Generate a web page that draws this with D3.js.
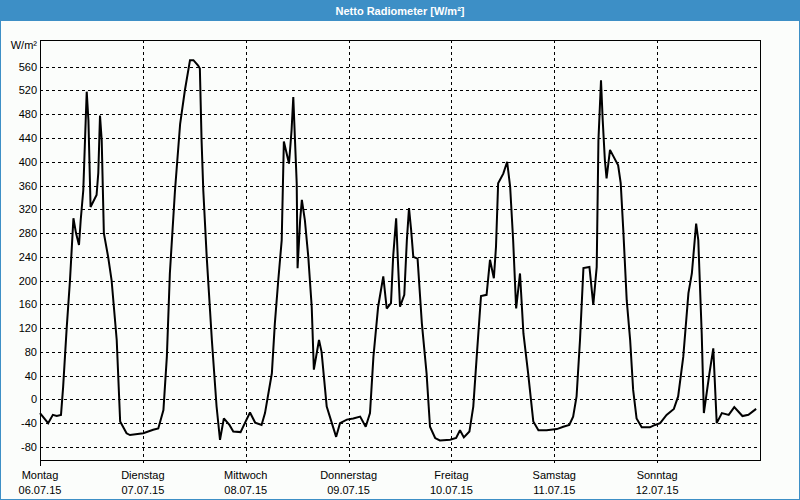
<!DOCTYPE html>
<html>
<head>
<meta charset="utf-8">
<script src="https://cdn.jsdelivr.net/npm/d3@7"></script>
<style>
  html, body { margin: 0; padding: 0; background: #fbfdfb; }
  svg { display: block; }
  text { font-family: "Liberation Sans", Arial, sans-serif; }
</style>
</head>
<body>
<svg id="chart" width="800" height="500"></svg>
<script>
const title = "Netto Radiometer [W/m²]";
const unitLabel = "W/m²";
const dayNames = ["Montag", "Dienstag", "Mittwoch", "Donnerstag", "Freitag", "Samstag", "Sonntag"];
const dayDates = ["06.07.15", "07.07.15", "08.07.15", "09.07.15", "10.07.15", "11.07.15", "12.07.15"];
const yTicks = [-80, -40, 0, 40, 80, 120, 160, 200, 240, 280, 320, 360, 400, 440, 480, 520, 560];

// hours since Monday 06.07.15 00:00
const hours = [0, 1.9, 3.0, 3.9, 4.9, 5.4, 6.2, 7.0, 7.8, 8.4, 9.1, 9.5, 10.1, 10.5, 10.9, 11.3, 11.8, 13.2, 13.6, 14.0, 14.4, 14.9, 15.9, 16.7, 17.9, 18.7, 20.2, 21.0, 24.1, 26.4, 27.6, 28.8, 29.6, 30.3, 31.5, 32.7, 33.8, 35.0, 35.8, 36.9, 37.3, 37.7, 38.1, 38.9, 40.1, 41.2, 42.0, 42.9, 44.2, 45.1, 46.8, 47.8, 49.0, 50.2, 51.7, 52.5, 54.1, 54.8, 55.6, 56.4, 56.9, 58.1, 58.7, 59.1, 59.5, 59.9, 60.1, 60.7, 61.1, 61.8, 62.6, 63.4, 63.9, 65.1, 65.7, 66.9, 68.1, 69.1, 70.0, 71.6, 73.1, 74.7, 76.0, 77.0, 77.8, 78.9, 80.1, 80.9, 81.9, 82.4, 83.1, 83.5, 84.0, 85.0, 85.6, 86.1, 86.6, 87.1, 88.1, 89.1, 90.2, 91.0, 92.2, 93.3, 95.7, 97.1, 98.0, 98.9, 100.2, 101.1, 101.9, 102.9, 104.2, 105.0, 105.9, 106.4, 106.9, 108.1, 109.0, 109.7, 110.4, 111.1, 112.0, 112.8, 113.9, 115.1, 116.3, 118.2, 120.6, 122.1, 123.5, 124.4, 125.2, 126.0, 126.8, 128.2, 129.1, 129.9, 130.3, 130.9, 131.3, 131.8, 132.2, 133.0, 134.9, 135.5, 136.1, 136.9, 137.7, 138.4, 139.2, 140.4, 142.3, 143.5, 144.7, 146.2, 147.9, 148.9, 150.1, 151.3, 152.1, 153.1, 153.6, 154.4, 154.9, 156.2, 157.1, 157.9, 159.1, 160.7, 162.0, 163.9, 165.3, 167.1];
const values = [-23, -40, -26, -28, -26, 21, 117, 201, 305, 280, 260, 302, 352, 436, 518, 470, 324, 344, 381, 478, 436, 280, 240, 201, 100, -37, -57, -60, -57, -51, -49, -18, 72, 212, 352, 464, 520, 571, 571, 562, 557, 436, 352, 240, 100, -12, -68, -32, -43, -54, -55, -40, -22, -39, -43, -23, 44, 128, 201, 268, 434, 397, 453, 509, 436, 364, 221, 302, 336, 302, 240, 156, 50, 100, 80, -12, -40, -63, -40, -34, -32, -29, -46, -23, 72, 156, 207, 153, 162, 240, 305, 235, 156, 176, 268, 322, 285, 240, 237, 128, 44, -46, -65, -69, -68, -65, -52, -64, -54, -12, 72, 174, 176, 235, 204, 257, 364, 380, 400, 358, 268, 153, 212, 111, 44, -37, -52, -52, -50, -46, -43, -29, 5, 100, 221, 223, 159, 223, 436, 537, 470, 403, 372, 420, 394, 364, 285, 167, 100, 16, -32, -47, -47, -43, -40, -26, -16, 5, 72, 179, 212, 296, 268, 111, -23, 44, 86, -40, -23, -26, -13, -28, -26, -16];

const svg = d3.select("#chart");
const W = 800, H = 500;
const m = { left: 40, right: 40, top: 40, bottom: 40 };

// window frame
svg.append("rect").attr("x", 0).attr("y", 0).attr("width", W).attr("height", H).attr("fill", "#fbfdfb");
svg.append("rect").attr("x", 0.5).attr("y", 0.5).attr("width", W - 1).attr("height", H - 1)
  .attr("fill", "none").attr("stroke", "#3d8fc6").attr("stroke-width", 1);
svg.append("rect").attr("x", 0).attr("y", 0).attr("width", W).attr("height", 21).attr("fill", "#3d8fc6");
svg.append("text").attr("x", W / 2).attr("y", 14.5).attr("text-anchor", "middle")
  .attr("fill", "#ffffff").attr("font-size", 11).attr("font-weight", "bold").text(title);

const x = d3.scaleLinear().domain([0, 168]).range([m.left, W - m.right]);
const y = d3.scaleLinear().domain([-102, 605]).range([H - m.bottom, m.top]);

const g = svg.append("g");

// horizontal grid
g.selectAll(".hgrid").data(yTicks).join("line")
  .attr("x1", x(0)).attr("x2", x(168))
  .attr("y1", d => Math.round(y(d)) + 0.5).attr("y2", d => Math.round(y(d)) + 0.5)
  .attr("stroke", "#000").attr("stroke-width", 1).attr("stroke-dasharray", "3,3");

// vertical day grid
const dayIdx = d3.range(1, 7);
g.selectAll(".vgrid").data(dayIdx).join("line")
  .attr("x1", d => Math.round(x(d * 24)) + 0.5).attr("x2", d => Math.round(x(d * 24)) + 0.5)
  .attr("y1", m.top).attr("y2", H - m.bottom + 4)
  .attr("stroke", "#000").attr("stroke-width", 1).attr("stroke-dasharray", "3,3");

// frame
g.append("rect").attr("x", m.left + 0.5).attr("y", m.top + 0.5)
  .attr("width", W - m.left - m.right).attr("height", H - m.top - m.bottom)
  .attr("fill", "none").attr("stroke", "#000").attr("stroke-width", 1);
g.append("line").attr("x1", m.left + 0.5).attr("x2", m.left + 0.5)
  .attr("y1", H - m.bottom).attr("y2", H - m.bottom + 6).attr("stroke", "#000");

// y tick labels
g.selectAll(".ylab").data(yTicks).join("text")
  .attr("x", 37).attr("y", d => y(d) + 4)
  .attr("text-anchor", "end").attr("font-size", 11).attr("fill", "#000")
  .text(d => d);
g.append("text").attr("x", 37).attr("y", 49).attr("text-anchor", "end")
  .attr("font-size", 11).attr("fill", "#000").text(unitLabel);

// x labels
const dayLab = g.selectAll(".xlab").data(d3.range(7)).join("g");
dayLab.append("text").attr("x", d => x(d * 24)).attr("y", 479)
  .attr("text-anchor", "middle").attr("font-size", 11).attr("fill", "#000")
  .text(d => dayNames[d]);
dayLab.append("text").attr("x", d => x(d * 24)).attr("y", 494)
  .attr("text-anchor", "middle").attr("font-size", 11).attr("fill", "#000")
  .text(d => dayDates[d]);

// data line
const pts = hours.map((h, i) => [h, values[i]]);
g.append("path").datum(pts)
  .attr("d", d3.line().x(d => x(d[0])).y(d => y(d[1])))
  .attr("fill", "none").attr("stroke", "#000").attr("stroke-width", 2)
  .attr("stroke-linejoin", "miter").attr("stroke-miterlimit", 2);
</script>
</body>
</html>
